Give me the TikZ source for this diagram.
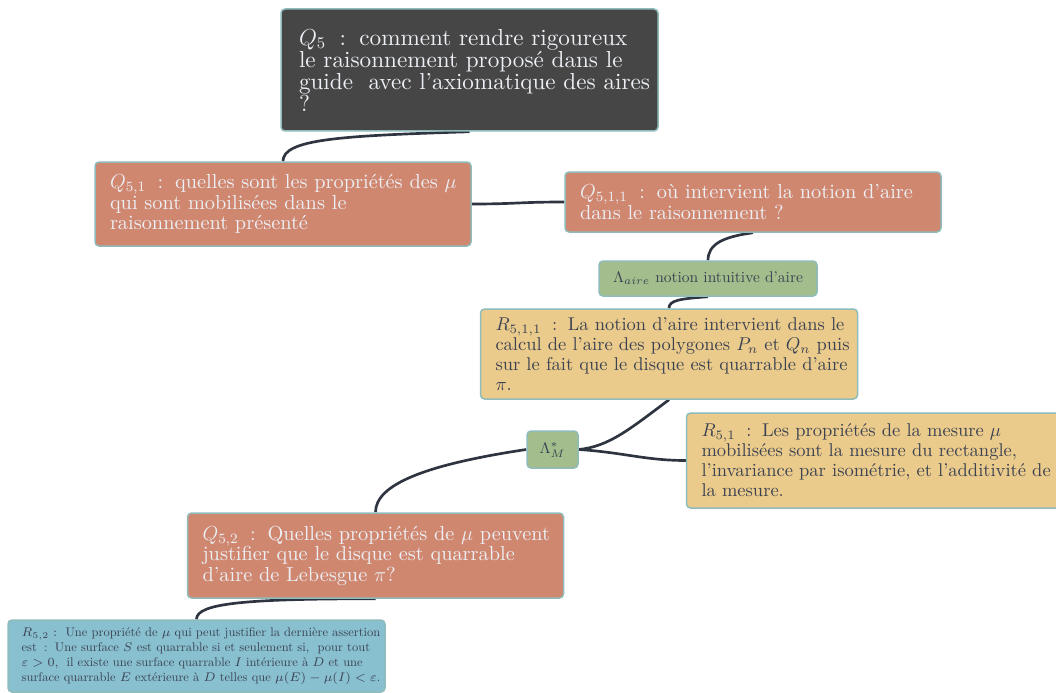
\RequirePackage{fix-cm}
\documentclass[tikz,border=0pt]{standalone}
\usepackage{amsmath,amssymb}
\usepackage{fontspec}
\setmainfont{lmroman10-regular.otf}[Ligatures=TeX]
\definecolor{mmdark}{RGB}{70,70,70}
\definecolor{mmsalmon}{RGB}{208,135,112}
\definecolor{mmgreen}{RGB}{163,190,140}
\definecolor{mmyellow}{RGB}{235,203,139}
\definecolor{mmblue}{RGB}{136,192,208}
\definecolor{mmborder}{RGB}{143,188,187}
\definecolor{mmlink}{RGB}{46,52,64}
\definecolor{mmlight}{RGB}{236,239,244}
\definecolor{mmtext}{RGB}{59,66,82}
\usetikzlibrary{backgrounds}
\newcommand\colsep{\hspace{.58em}:\hspace{.58em}}

\begin{document}
\begin{tikzpicture}[x=0.6pt, y=-0.6pt,
  box/.style={draw=mmborder, line width=0.9pt, rounded corners=2.4pt,
    align=left, inner ysep=0pt},
  rootbox/.style={box, fill=mmdark, text=mmlight,
    font=\fontsize{13.9}{13.2}\selectfont,
    text width=221.2pt, inner xsep=2.5pt,
    execute at begin node={\leftskip=8.3pt}},
  question/.style={box, fill=mmsalmon, text=mmlight,
    font=\fontsize{12.2}{12.3}\selectfont,
    text width=217.6pt, inner xsep=4pt,
    execute at begin node={\leftskip=5pt}},
  answer/.style={box, fill=mmyellow, text=mmtext,
    font=\fontsize{11.1}{12}\selectfont,
    text width=221.2pt, inner xsep=2.5pt,
    execute at begin node={\leftskip=6.5pt}},
  lambda/.style={box, fill=mmgreen, text=mmtext, align=center,
    font=\fontsize{9.3}{11}\selectfont, inner xsep=2pt},
  note/.style={box, fill=mmblue, text=mmtext,
    font=\fontsize{7.5}{9}\selectfont,
    text width=222.2pt, inner xsep=2pt,
    execute at begin node={\leftskip=6.2pt}},
  link/.style={draw=mmlink, line width=1.6pt}]

\useasboundingbox (0,0) rectangle (1056,693);

% --- questions ---
\node[rootbox, minimum height=73.2pt] (q5) at (469.5,70) {%
  $Q_5$\colsep comment rendre rigoureux\\
  le raisonnement propos\'e dans le\\
  guide \ avec l'axiomatique des aires\\
  ?};

\node[question, minimum height=50.4pt] (q51) at (283,204) {%
  $Q_{5,1}$\colsep quelles sont les propri\'et\'es des $\mu$\\
  qui sont mobilis\'ees dans le\\
  raisonnement pr\'esent\'e};

\node[question, minimum height=36pt] (q511) at (753,202) {%
  $Q_{5,1,1}$\colsep o\`u intervient la notion d'aire\\
  dans le raisonnement ?};

\node[question, minimum height=51pt] (q52) at (375.5,555.5) {%
  $Q_{5,2}$\colsep Quelles propri\'et\'es de $\mu$ peuvent\\
  justifier que le disque est quarrable\\
  d'aire de Lebesgue $\pi$?};

% --- lambda nodes ---
\node[lambda, minimum width=130.8pt, minimum height=21pt] (laire) at (708,278.5)
  {$\Lambda_{aire}$ notion intuitive d'aire};

\node[lambda, minimum width=30.6pt, minimum height=22.2pt] (lm) at (552.5,449.5)
  {$\Lambda^*_M$};

% --- answers ---
\node[answer, minimum height=54pt] (r511) at (669,354) {%
  $R_{5,1,1}$\colsep La notion d'aire intervient dans le\\
  calcul de l'aire des polygones $P_n$ et $Q_n$ puis\\
  sur le fait que le disque est quarrable d'aire\\
  $\pi$.};

\node[answer, minimum height=57pt] (r51) at (875,460.5) {%
  $R_{5,1}$\colsep Les propri\'et\'es de la mesure $\mu$\\
  mobilis\'ees sont la mesure du rectangle,\\
  l'invariance par isom\'etrie, et l'additivit\'e de\\
  la mesure.};

\node[note, minimum height=43.2pt] (r52) at (196.5,656) {%
  $R_{5,2}:$ \ Une propri\'et\'e de $\mu$ qui peut justifier la derni\`ere assertion\\
  est\colsep Une surface $S$ est quarrable si et seulement si, \ pour tout\\
  $\varepsilon>0$, \ il existe une surface quarrable $I$ int\'erieure \`a $D$ et une\\
  surface quarrable $E$ ext\'erieure \`a $D$ telles que $\mu(E)-\mu(I)<\varepsilon$.};

% --- connectors ---
\begin{scope}[on background layer]
\draw[link] (q5.south) .. controls +(-130,4) and +(0,-22) .. (q51.north);
\draw[link] (q51.east) .. controls +(45,0) and +(-45,0) .. (q511.west);
\draw[link] (q511.south) .. controls +(-30,4) and +(0,-16) .. (laire.north);
\draw[link] (laire.south) .. controls +(-28,2) and +(0,-8) .. (r511.north);
\draw[link] (r511.south) .. controls +(-40,30) and +(30,-3) .. (lm.east);
\draw[link] (lm.east) .. controls +(45,3) and +(-40,0) .. (r51.west);
\draw[link] (lm.west) .. controls +(-100,15) and +(0,-28) .. (q52.north);
\draw[link] (q52.south) .. controls +(-130,0) and +(0,-16) .. (r52.north);
\end{scope}

\end{tikzpicture}
\end{document}
